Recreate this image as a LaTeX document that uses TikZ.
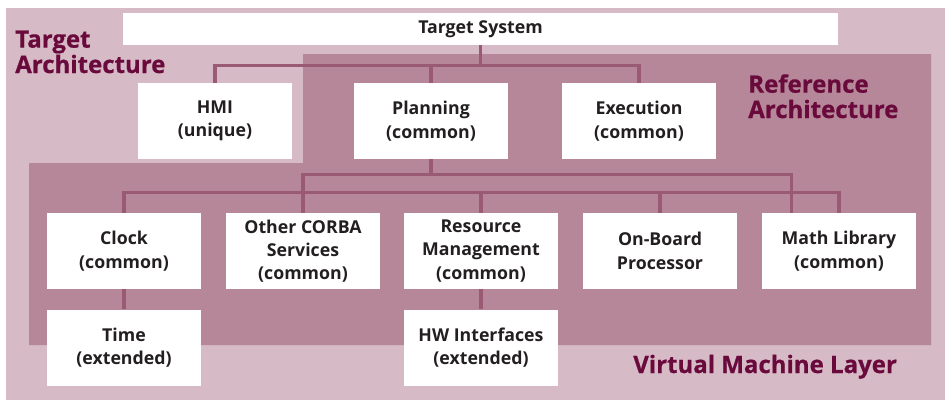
\documentclass[tikz,border=0pt]{standalone}
\usepackage{fontspec}
\setmainfont{Open Sans}
\newfontfamily\heavyfont{Open Sans}[BoldFeatures={FakeBold=0.6}]
\usetikzlibrary{positioning, calc}

\definecolor{outerpink}{HTML}{D6BAC6}
\definecolor{innerpink}{HTML}{B58798}
\definecolor{wirecol}{HTML}{9B5A73}
\definecolor{titlered}{HTML}{6A0A3C}
\definecolor{boxtext}{HTML}{231F20}

\tikzset{
  module/.style={fill=white, text=boxtext, minimum width=115.5pt, minimum height=57pt,
    inner sep=0pt, align=center, font=\fontsize{13.3}{17.5}\selectfont\bfseries},
  wire/.style={draw=wirecol, line width=2.3pt},
  layer/.style={text=titlered, align=left, inner sep=0pt,
    font=\fontsize{18}{19}\selectfont\heavyfont\bfseries},
}

\begin{document}
\begin{tikzpicture}[x=0.75pt, y=-0.75pt, node distance=15pt]

% Manually size the picture
\useasboundingbox (0, 0) rectangle (945, 400);

% Target architecture background
\fill[outerpink] (6, 8) rectangle (945, 400);

% Reference architecture area
\fill[innerpink] (303, 54) -- (931, 54) -- (931, 345) -- (29, 345) -- (29, 163) -- (303, 163) -- cycle;

% Top box
\node[module, minimum width=536pt, minimum height=24pt] (ts) at (480.5, 29) {Target System};

% Application modules
\node[module] (hmi) at (215, 121) {HMI\\(unique)};
\node[module] (plan) at (431, 121) {Planning\\(common)};
\node[module] (exec) at (639, 121) {Execution\\(common)};

% Virtual machine modules
\node[module] (clock) at (124, 251) {Clock\\(common)};
\node[module] (corba) at (303, 251) {Other CORBA\\Services\\(common)};
\node[module] (res) at (481, 251) {Resource\\Management\\(common)};
\node[module] (obp) at (660, 251) {On-Board\\Processor};
\node[module] (math) at (839, 251) {Math Library\\(common)};

% Extended modules
\node[module, below=of clock] (time) {Time\\(extended)};
\node[module, below=of res] (hw) {HW Interfaces\\(extended)};

% Upper connectors
\coordinate (topbus) at ($(ts.south) + (0, 20)$);
\draw[wire] (ts.south) -- (topbus);
\draw[wire] (hmi.north) |- (topbus) -| (exec.north);
\draw[wire] (plan.north) -- (plan.north |- topbus);

% Lower connectors
\coordinate (midbus) at ($(plan.south) + (0, 15)$);
\coordinate (mathtap) at ($(math.north west) + (30, 0)$);
\draw[wire] (plan.south) -- (midbus);
\draw[wire] (corba.north) |- (midbus) -| (mathtap);
\draw[wire] (clock.north) -- ++(0, -20) -| (math.north);
\draw[wire] (res.north) -- ++(0, -20);
\draw[wire] (obp.north) -- ++(0, -20);
\draw[wire] (clock.south) -- (time.north);
\draw[wire] (res.south) -- (hw.north);

% Layer labels
\node[layer, anchor=base west] (tarch) at (15, 73) {Target\\Architecture};
\node[layer, anchor=base west] (rarch) at (748, 118) {Reference\\Architecture};
\node[layer, anchor=base west] (vml) at (633, 373) {Virtual Machine Layer};

\end{tikzpicture}
\end{document}
